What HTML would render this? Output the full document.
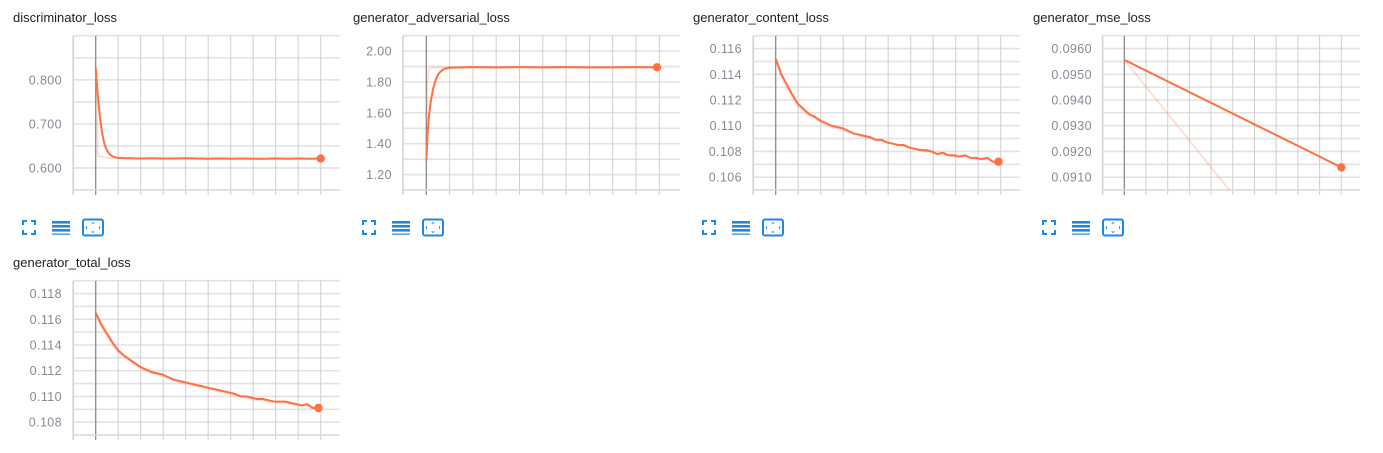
<!DOCTYPE html>
<html><head><meta charset="utf-8">
<style>
html,body{margin:0;padding:0;background:#fff;}
body{width:1383px;height:453px;overflow:hidden;position:relative;font-family:"Liberation Sans",sans-serif;}
svg{position:absolute;left:0;top:0;}
</style></head>
<body>
<svg id="root" width="1383" height="453"></svg>
<script>
// ---- data ----
const discSteps = [0,0.1,0.2,0.3,0.4,0.5,0.6,0.7,0.8,1,1.5,2,2.5,3,3.5,4,4.5,5,5.5,6,6.5,7,7.5,8,8.5,9,9.5,10];
const discSmooth = [0.827,0.76,0.71,0.675,0.652,0.64,0.632,0.628,0.625,0.623,0.622,0.6215,0.622,0.6215,0.6215,0.622,0.6215,0.621,0.6215,0.621,0.6215,0.621,0.621,0.6215,0.621,0.6215,0.621,0.6215];
const discRaw = [0.827,0.628,0.626,0.625,0.624,0.623,0.623,0.623,0.622,0.622,0.622,0.621,0.622,0.621,0.622,0.622,0.621,0.621,0.622,0.621,0.621,0.621,0.621,0.622,0.621,0.622,0.621,0.622];

const advSteps = [0,0.05,0.1,0.2,0.3,0.4,0.5,0.6,0.7,0.8,1,1.5,2,3,4,5,6,7,8,9,10];
const advSmooth = [1.29,1.45,1.56,1.68,1.76,1.81,1.845,1.865,1.878,1.886,1.892,1.895,1.896,1.895,1.896,1.895,1.896,1.895,1.895,1.896,1.895];
const advRaw = [1.29,1.82,1.88,1.89,1.892,1.894,1.895,1.895,1.896,1.895,1.896,1.895,1.896,1.895,1.896,1.895,1.896,1.895,1.895,1.896,1.895];

const contentSmooth = [0.11522,0.1140,0.1132,0.1124,0.1117,0.1113,0.1109,0.1107,0.1104,0.1102,0.1100,0.1099,0.1098,0.1096,0.1094,0.1093,0.1092,0.1091,0.1089,0.1089,0.1087,0.1086,0.1085,0.1085,0.1083,0.1082,0.1081,0.1081,0.1080,0.1078,0.1079,0.1077,0.1077,0.1076,0.1077,0.1075,0.1075,0.1074,0.1075,0.1072,0.1072];
const contentRaw = [0.11522,0.1138,0.1129,0.1122,0.1115,0.1112,0.1108,0.1106,0.1103,0.1101,0.1099,0.1098,0.1097,0.1095,0.1094,0.1092,0.1091,0.1090,0.1089,0.1088,0.1087,0.1086,0.1085,0.1084,0.1083,0.1082,0.1081,0.1080,0.1079,0.1078,0.1078,0.1077,0.1076,0.1076,0.1076,0.1075,0.1074,0.1074,0.1074,0.1072,0.1072];

const totalSmooth = [0.1165,0.1156,0.1149,0.1142,0.1136,0.1132,0.1129,0.1126,0.1123,0.1121,0.1119,0.1118,0.1117,0.1115,0.1113,0.1112,0.1111,0.1110,0.1109,0.1108,0.1107,0.1106,0.1105,0.1104,0.1103,0.1102,0.1100,0.1100,0.1099,0.1098,0.1098,0.1097,0.1096,0.1096,0.1096,0.1095,0.1094,0.1093,0.1094,0.1091,0.1091];
const totalRaw = [0.1165,0.1154,0.1147,0.1140,0.1135,0.1131,0.1128,0.1125,0.1122,0.1120,0.1118,0.1117,0.1116,0.1114,0.1113,0.1111,0.1110,0.1109,0.1108,0.1107,0.1106,0.1105,0.1104,0.1103,0.1102,0.1101,0.1100,0.1099,0.1098,0.1097,0.1097,0.1096,0.1096,0.1095,0.1095,0.1094,0.1093,0.1093,0.1093,0.1091,0.1091];

const mseSteps = [0,10];
const mseSmooth = [0.09556,0.09138];
const mseRaw = [0.09556,0.0851];

const discTicks = [0.6,0.7,0.8];
const advTicks = [1.2,1.4,1.6,1.8,2.0];
const contentTicks = [0.106,0.108,0.110,0.112,0.114,0.116];
const mseTicks = [0.091,0.092,0.093,0.094,0.095,0.096];
const totalTicks = [0.108,0.110,0.112,0.114,0.116,0.118];

// ---- rendering ----
const NS = 'http://www.w3.org/2000/svg';
const root = document.getElementById('root');
function mk(tag, attrs, parent){
  const e = document.createElementNS(NS, tag);
  for (const k in attrs) e.setAttribute(k, attrs[k]);
  (parent||root).appendChild(e);
  return e;
}
const longSteps = contentSmooth.map((v,i)=> i*0.25*0.99);

const panels = [
 {name:'discriminator-loss', title:'discriminator_loss', ox:0, oy:0, axis:95.7, step:22.5, ymin:0.55, ymax:0.90, minor:0.05, ticks:discTicks, dec:3, labelRight:62, steps:discSteps, sm:discSmooth, raw:discRaw},
 {name:'generator-adversarial-loss', title:'generator_adversarial_loss', ox:340, oy:0, axis:426.3, step:23.3, ymin:1.1, ymax:2.1, minor:0.1, ticks:advTicks, dec:2, labelRight:392, steps:advSteps.map(s=>s*0.99), sm:advSmooth, raw:advRaw},
 {name:'generator-content-loss', title:'generator_content_loss', ox:680, oy:0, axis:775.7, step:22.5, ymin:0.105, ymax:0.117, minor:0.001, ticks:contentTicks, dec:3, labelRight:742, steps:longSteps, sm:contentSmooth, raw:contentRaw},
 {name:'generator-mse-loss', title:'generator_mse_loss', ox:1020, oy:0, axis:1124.3, step:21.7, ymin:0.0905, ymax:0.0965, minor:0.0005, ticks:mseTicks, dec:4, labelRight:1092, steps:mseSteps, sm:mseSmooth, raw:mseRaw},
 {name:'generator-total-loss', title:'generator_total_loss', ox:0, oy:245, axis:95.7, step:22.5, ymin:0.107, ymax:0.119, minor:0.001, ticks:totalTicks, dec:3, labelRight:62, steps:longSteps, sm:totalSmooth, raw:totalRaw},
];

panels.forEach((p, pi)=>{
  const top = p.oy + 35.7, bot = p.oy + 190;
  const L = p.axis - p.step, R = Math.min(p.axis + 11*p.step, p.ox + 340);
  const X = v => p.axis + v*p.step;
  const Y = v => bot - (v - p.ymin)/(p.ymax - p.ymin)*(bot - top);
  const g = mk('g', {});
  
  

  const title = mk('text', {x:p.ox+13, y:p.oy+22, 'font-size':13, fill:'#212121', 'font-family':'"Liberation Sans",sans-serif'}, g);
  title.textContent = p.title;
  
  

  const clipId = 'clip'+pi;
  const cp = mk('clipPath', {id:clipId}, g);
  mk('rect', {x:L, y:top, width:R-L, height:bot-top}, cp);

  const n = Math.round((p.ymax-p.ymin)/p.minor);
  for (let i=0;i<=n;i++){
    const v = p.ymin + i*p.minor;
    const gl = mk('line', {x1:L, x2:R, y1:Y(v), y2:Y(v), stroke:'#e2e2e2', 'stroke-width':1.6}, g);
    
    
  }
  for (let k=-1;k<=11;k++){
    const x = X(k);
    if (x > p.ox+341) continue;
    const vl = mk('line', {x1:x, x2:x, y1:top, y2:bot+5, stroke:k===0?'#8a8a8a':(k===-1?'#d4d4d4':'#cfcfcf'), 'stroke-width':k===0?1.3:(k===-1?1.6:1)}, g);
    
    
  }
  mk('line', {x1:L, x2:R, y1:bot, y2:bot, stroke:'#dcdcdc', 'stroke-width':1.6}, g);
  p.ticks.forEach(t=>{
    const tx = mk('text', {x:p.labelRight, y:Y(t)+4.5, 'font-size':12.5, fill:'#8a8896', 'text-anchor':'end', 'letter-spacing':'0.4', 'font-family':'"Liberation Sans",sans-serif'}, g);
    tx.textContent = t.toFixed(p.dec);
    
    
  });
  const path = arr => arr.map((v,i)=>(i?'L':'M')+X(p.steps[i]).toFixed(2)+','+Y(v).toFixed(2)).join(' ');
  const raw = mk('path', {d:path(p.raw), fill:'none', stroke:'#ff7043', 'stroke-opacity':0.22, 'stroke-width':2, 'clip-path':'url(#'+clipId+')'}, g);
  
  
  const sm = mk('path', {d:path(p.sm), fill:'none', stroke:'#ff7043', 'stroke-width':2, 'stroke-linejoin':'round', 'clip-path':'url(#'+clipId+')'}, g);
  
  
  const last = p.sm.length-1;
  const dot = mk('circle', {cx:X(p.steps[last]), cy:Y(p.sm[last]), r:4.2, fill:'#ff7043'}, g);
  
  

  if (p.oy === 0){
    const iy = 220, ix = p.ox;
    const fs = mk('g', {stroke:'#1e88e5', 'stroke-width':2, fill:'none'}, g);
    
    
    mk('path', {d:`M${ix+23},${iy+5} V${iy+1} H${ix+27} M${ix+31},${iy+1} H${ix+35} V${iy+5} M${ix+35},${iy+10} V${iy+14} H${ix+31} M${ix+27},${iy+14} H${ix+23} V${iy+10}`}, fs);
    const ls = mk('g', {fill:'#1e88e5'}, g);
    
    
    [1,5,9].forEach(d=>mk('rect', {x:ix+52, y:iy+d, width:18, height:2.6}, ls));
    mk('rect', {x:ix+52, y:iy+13.5, width:18, height:1.2}, ls);
    const fit = mk('g', {}, g);
    
    
    mk('rect', {x:ix+83, y:iy-0.5, width:20, height:16, rx:2, fill:'none', stroke:'#1e88e5', 'stroke-width':2}, fit);
    mk('path', {d:`M${ix+91},${iy+3.5} h4 l-2,-1.5z M${ix+91},${iy+11.5} h4 l-2,1.5z M${ix+87},${iy+5.5} v4 l-1.5,-2z M${ix+99},${iy+5.5} v4 l1.5,-2z`, fill:'#1e88e5'}, fit);
  }
});
</script>
</body></html>
